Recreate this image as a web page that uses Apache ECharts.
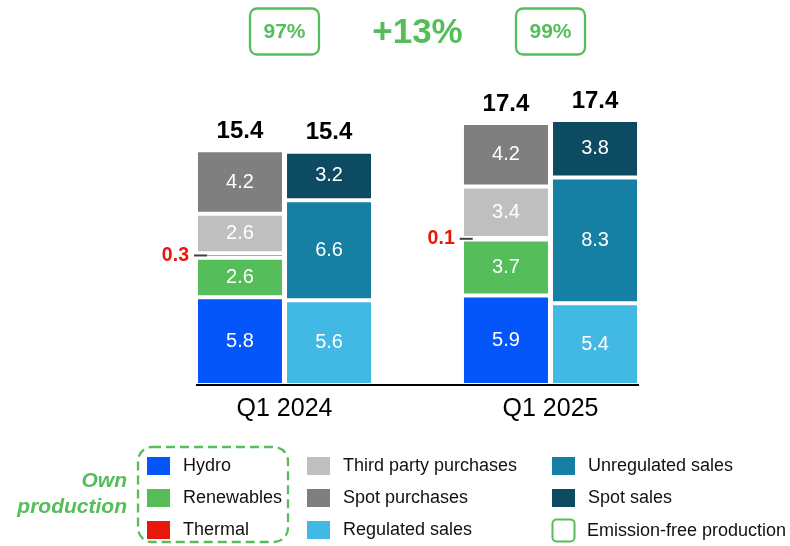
<!DOCTYPE html>
<html>
<head>
<meta charset="utf-8">
<script src="https://cdn.jsdelivr.net/npm/echarts@6/dist/echarts.min.js"></script>
<style>
  html, body { margin: 0; padding: 0; background: #fff; }
  #chart { width: 790px; height: 546px; }
</style>
</head>
<body>
<div id="chart"></div>
<script>
// ---- data ----
const categories = ['Q1 2024', 'Q1 2025'];
const hydro = [5.8, 5.9];
const renewables = [2.6, 3.7];
const thermal = [0.3, 0.1];
const thirdParty = [2.6, 3.4];
const spotPurchases = [4.2, 4.2];
const regulatedSales = [5.6, 5.4];
const unregulatedSales = [6.6, 8.3];
const spotSales = [3.2, 3.8];
const totalSources = [15.4, 17.4];
const totalUses = [15.4, 17.4];
const emissionFree = ['97%', '99%'];
const growth = '+13%';

// ---- styling ----
const FONT = '"Liberation Sans", Arial, sans-serif';
const GREEN = '#55BE5B';
const colors = {
  'Hydro': '#0455FA',
  'Renewables': '#55BE5B',
  'Thermal': '#E8170B',
  'Third party purchases': '#BFBFBF',
  'Spot purchases': '#7F7F7F',
  'Regulated sales': '#42B8E5',
  'Unregulated sales': '#1580A3',
  'Spot sales': '#0D4B63'
};
const BAR_W = 88;

function seg(name, data, stack) {
  return {
    name: name, type: 'bar', stack: stack, data: data,
    barWidth: BAR_W, barGap: '1.2%',
    itemStyle: { color: colors[name], borderColor: '#fff', borderWidth: 2 },
    label: { show: true, position: 'inside', color: '#fff', fontSize: 20, fontFamily: FONT },
    emphasis: { disabled: true }
  };
}
function total(name, totals, stack) {
  return {
    name: name, type: 'bar', stack: stack, data: totals.map(() => 0),
    barWidth: BAR_W, barGap: '1.2%',
    itemStyle: { color: 'rgba(0,0,0,0)', borderWidth: 0 },
    label: {
      show: true, position: 'top', distance: 7,
      formatter: p => totals[p.dataIndex].toFixed(1),
      color: '#000', fontSize: 24, fontWeight: 'bold', fontFamily: FONT
    },
    emphasis: { disabled: true }, silent: true
  };
}

const thermalSeries = seg('Thermal', thermal, 'src');
thermalSeries.label = {
  show: true, position: 'left', distance: 0, offset: [11, 0],
  formatter: p => '{v|' + p.value.toFixed(1) + '}{l|\u00a0}',
  rich: {
    v: { color: '#E8170B', fontSize: 19.5, fontWeight: 'bold', fontFamily: FONT, padding: [0, 5, 0, 0] },
    l: { width: 13, height: 2, lineHeight: 2, fontSize: 2, backgroundColor: '#404040' }
  }
};

const legendCommon = {
  orient: 'vertical', itemWidth: 23, itemHeight: 18, itemGap: 14, icon: 'rect',
  selectedMode: false, padding: 0, top: 457, height: 89,
  itemStyle: { borderWidth: 0 },
  textStyle: { fontSize: 18, color: '#111', fontFamily: FONT, padding: [0, 0, 0, 8] }
};

const chart = echarts.init(document.getElementById('chart'), null, { renderer: 'canvas' });
chart.setOption({
  animation: false,
  backgroundColor: '#fff',
  grid: { left: 151.5, right: 106.5, top: 82, bottom: 161 },
  xAxis: {
    type: 'category', data: categories,
    axisLine: { show: false }, axisTick: { show: false },
    axisLabel: { fontSize: 25, color: '#000', fontFamily: FONT, margin: 12 }
  },
  yAxis: { type: 'value', min: 0, max: 20, show: false, splitLine: { show: false } },
  legend: [
    Object.assign({}, legendCommon, { left: 147, data: ['Hydro', 'Renewables', 'Thermal'] }),
    Object.assign({}, legendCommon, { left: 307, data: ['Third party purchases', 'Spot purchases', 'Regulated sales'] }),
    Object.assign({}, legendCommon, { left: 552, data: ['Unregulated sales', 'Spot sales'] })
  ],
  series: [
    seg('Hydro', hydro, 'src'),
    seg('Renewables', renewables, 'src'),
    thermalSeries,
    seg('Third party purchases', thirdParty, 'src'),
    seg('Spot purchases', spotPurchases, 'src'),
    total('Total sources', totalSources, 'src'),
    seg('Regulated sales', regulatedSales, 'use'),
    seg('Unregulated sales', unregulatedSales, 'use'),
    seg('Spot sales', spotSales, 'use'),
    total('Total uses', totalUses, 'use')
  ]
});

// ---- decorations derived from the axis ----
const cx = categories.map(c => chart.convertToPixel({ xAxisIndex: 0 }, c));
const y0 = chart.convertToPixel({ yAxisIndex: 0 }, 0);
const half = BAR_W + BAR_W * 0.012 / 2;
const graphics = [
  { type: 'line', z: 100, shape: { x1: cx[0] - half, y1: y0, x2: cx[1] + half, y2: y0 },
    style: { stroke: '#000', lineWidth: 2 } }
];
emissionFree.forEach((t, i) => {
  graphics.push({ type: 'rect', shape: { x: cx[i] - 34.5, y: 8.5, width: 69, height: 46, r: 7 },
    style: { fill: '#fff', stroke: GREEN, lineWidth: 2.3 } });
  graphics.push({ type: 'text', style: { text: t, x: cx[i], y: 32, align: 'center', verticalAlign: 'middle',
    font: 'bold 21px ' + FONT, fill: GREEN } });
});
graphics.push({ type: 'text', style: { text: growth, x: (cx[0] + cx[1]) / 2, y: 33, align: 'center', verticalAlign: 'middle',
  font: 'bold 35px ' + FONT, fill: GREEN } });
// own-production group box
graphics.push({ type: 'rect', shape: { x: 138, y: 447, width: 150, height: 95, r: 14 },
  style: { fill: 'none', stroke: GREEN, lineWidth: 2.3, lineDash: [9, 5] } });
graphics.push({ type: 'text', style: { text: 'Own\nproduction', x: 127, y: 468, align: 'right', verticalAlign: 'top',
  font: 'italic bold 21px ' + FONT, fill: GREEN, lineHeight: 26 } });
// emission-free legend entry
graphics.push({ type: 'rect', shape: { x: 552.5, y: 519.5, width: 22, height: 22, r: 4 },
  style: { fill: '#fff', stroke: GREEN, lineWidth: 2 } });
graphics.push({ type: 'text', style: { text: 'Emission-free production', x: 587, y: 531, verticalAlign: 'middle',
  font: '18px ' + FONT, fill: '#111' } });
chart.setOption({ graphic: graphics });
</script>
</body>
</html>
